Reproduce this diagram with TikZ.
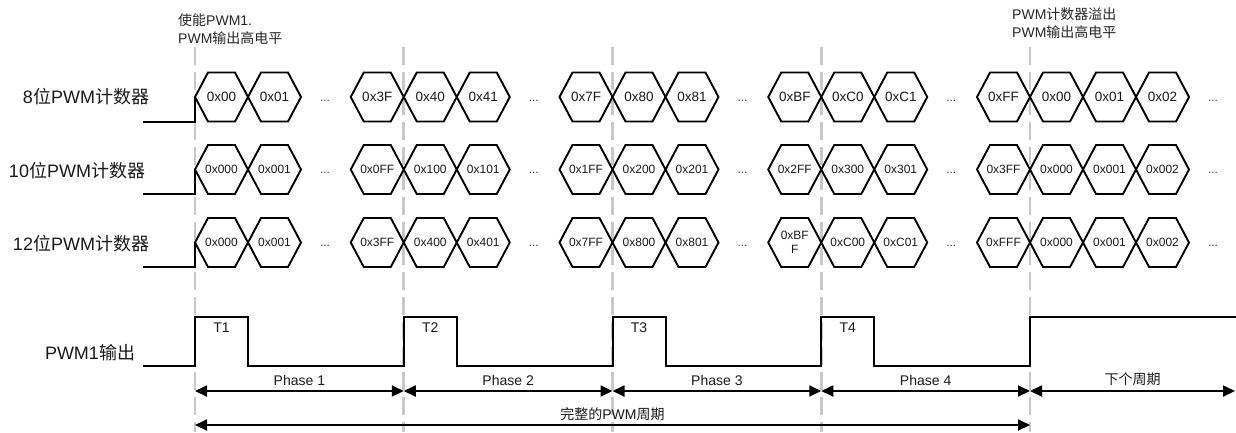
\documentclass[tikz,border=0pt]{standalone}
\usepackage{fontspec}
\setmainfont{Liberation Sans}
\newfontfamily\cjk{Noto Sans CJK SC}
\usetikzlibrary{arrows.meta}
\tikzset{
  hexline/.style={draw=black, line width=1.9pt, line join=miter},
  hexA/.style={font=\fontsize{13.5}{15}\selectfont, inner sep=0pt, text=black!90},
  hexB/.style={font=\fontsize{12}{14}\selectfont, inner sep=0pt, align=center, text=black!90},
  wave/.style={draw=black, line width=2pt, line join=miter},
  guide/.style={draw={rgb,255:red,200;green,200;blue,200}, line width=2.6pt, dash pattern=on 18pt off 7pt},
  dimline/.style={draw=black, line width=1.8pt, {Triangle[length=12pt,width=11pt]}-{Triangle[length=12pt,width=11pt]}},
  rowlabel/.style={font=\fontsize{18}{20}\selectfont, text=black!90},
  note/.style={font=\fontsize{14}{18}\selectfont, align=left, anchor=west, inner sep=0pt, text=black!85},
  tlabel/.style={font=\fontsize{14}{16}\selectfont, text=black!90},
  dotsep/.style={font=\fontsize{12}{14}\selectfont, anchor=base, inner sep=0pt, text=black!80},
}
\begin{document}
\begin{tikzpicture}[x=1pt, y=-1pt]
% group starts (dashed guides)
\def\gA{195}
\def\gB{403.75}
\def\gC{612.5}
\def\gD{821.25}
\def\gE{1030}
% #1 left vertex x, #2 row y, #3 style, #4 name, #5 value
\providecommand{\pwmHex}[5]{%
  \draw[hexline] (#1,#2) -- ++(13,-24.5) -- ++(27,0) -- ++(13,24.5) -- ++(-13,24.5) -- ++(-27,0) -- cycle;
  \node[#3] (#4) at ({#1+26.5},#2) {#5};}
\useasboundingbox (0,0) rectangle (1236,432);
% Guides
\coordinate (g0) at (\gA,47);
\coordinate (g1) at (\gB,47);
\coordinate (g2) at (\gC,47);
\coordinate (g3) at (\gD,47);
\coordinate (g4) at (\gE,47);
\draw[guide] (g0) -- ++(0,385);
\draw[guide] (g1) -- ++(0,385);
\draw[guide] (g2) -- ++(0,385);
\draw[guide] (g3) -- ++(0,385);
\draw[guide] (g4) -- ++(0,385);
% Notes
\node[note] (enable) at (178,29) {{\cjk 使能}PWM1.\\PWM{\cjk 输出高电平}};
\node[note] (overflow) at (1012,23.5) {PWM{\cjk 计数器溢出}\\PWM{\cjk 输出高电平}};
% Row labels
\node[rowlabel] (lab8) at (86,97) {8{\cjk 位}PWM{\cjk 计数器}};
\node[rowlabel] (lab10) at (77,171) {10{\cjk 位}PWM{\cjk 计数器}};
\node[rowlabel] (lab12) at (81,244) {12{\cjk 位}PWM{\cjk 计数器}};
\node[rowlabel] (labout) at (90,353) {PWM1{\cjk 输出}};
% 8-bit counter
\draw[wave] (143,121.5) -- (\gA,121.5) -- (\gA,97);
\pwmHex{\gA}{97}{hexA}{e1}{0x00}
\pwmHex{\gA+53}{97}{hexA}{e2}{0x01}
\node[dotsep] (ed1) at (\gA+130,101) {...};
\pwmHex{\gA+155.75}{97}{hexA}{e3}{0x3F}
\pwmHex{\gB}{97}{hexA}{e4}{0x40}
\pwmHex{\gB+53}{97}{hexA}{e5}{0x41}
\node[dotsep] (ed2) at (\gB+130,101) {...};
\pwmHex{\gB+155.75}{97}{hexA}{e6}{0x7F}
\pwmHex{\gC}{97}{hexA}{e7}{0x80}
\pwmHex{\gC+53}{97}{hexA}{e8}{0x81}
\node[dotsep] (ed3) at (\gC+130,101) {...};
\pwmHex{\gC+155.75}{97}{hexA}{e9}{0xBF}
\pwmHex{\gD}{97}{hexA}{e10}{0xC0}
\pwmHex{\gD+53}{97}{hexA}{e11}{0xC1}
\node[dotsep] (ed4) at (\gD+130,101) {...};
\pwmHex{\gD+155.75}{97}{hexA}{e12}{0xFF}
\pwmHex{\gE}{97}{hexA}{e13}{0x00}
\pwmHex{\gE+53}{97}{hexA}{e14}{0x01}
\pwmHex{\gE+106}{97}{hexA}{e15}{0x02}
\node[dotsep] (ed5) at (\gE+183,101) {...};
% 10-bit counter
\draw[wave] (143,194) -- (\gA,194) -- (\gA,169.5);
\pwmHex{\gA}{169.5}{hexB}{t1}{0x000}
\pwmHex{\gA+53}{169.5}{hexB}{t2}{0x001}
\node[dotsep] (td1) at (\gA+130,173.5) {...};
\pwmHex{\gA+155.75}{169.5}{hexB}{t3}{0x0FF}
\pwmHex{\gB}{169.5}{hexB}{t4}{0x100}
\pwmHex{\gB+53}{169.5}{hexB}{t5}{0x101}
\node[dotsep] (td2) at (\gB+130,173.5) {...};
\pwmHex{\gB+155.75}{169.5}{hexB}{t6}{0x1FF}
\pwmHex{\gC}{169.5}{hexB}{t7}{0x200}
\pwmHex{\gC+53}{169.5}{hexB}{t8}{0x201}
\node[dotsep] (td3) at (\gC+130,173.5) {...};
\pwmHex{\gC+155.75}{169.5}{hexB}{t9}{0x2FF}
\pwmHex{\gD}{169.5}{hexB}{t10}{0x300}
\pwmHex{\gD+53}{169.5}{hexB}{t11}{0x301}
\node[dotsep] (td4) at (\gD+130,173.5) {...};
\pwmHex{\gD+155.75}{169.5}{hexB}{t12}{0x3FF}
\pwmHex{\gE}{169.5}{hexB}{t13}{0x000}
\pwmHex{\gE+53}{169.5}{hexB}{t14}{0x001}
\pwmHex{\gE+106}{169.5}{hexB}{t15}{0x002}
\node[dotsep] (td5) at (\gE+183,173.5) {...};
% 12-bit counter
\draw[wave] (143,267) -- (\gA,267) -- (\gA,242.5);
\pwmHex{\gA}{242.5}{hexB}{w1}{0x000}
\pwmHex{\gA+53}{242.5}{hexB}{w2}{0x001}
\node[dotsep] (wd1) at (\gA+130,246.5) {...};
\pwmHex{\gA+155.75}{242.5}{hexB}{w3}{0x3FF}
\pwmHex{\gB}{242.5}{hexB}{w4}{0x400}
\pwmHex{\gB+53}{242.5}{hexB}{w5}{0x401}
\node[dotsep] (wd2) at (\gB+130,246.5) {...};
\pwmHex{\gB+155.75}{242.5}{hexB}{w6}{0x7FF}
\pwmHex{\gC}{242.5}{hexB}{w7}{0x800}
\pwmHex{\gC+53}{242.5}{hexB}{w8}{0x801}
\node[dotsep] (wd3) at (\gC+130,246.5) {...};
\pwmHex{\gC+155.75}{242.5}{hexB}{w9}{0xBF\\F}
\pwmHex{\gD}{242.5}{hexB}{w10}{0xC00}
\pwmHex{\gD+53}{242.5}{hexB}{w11}{0xC01}
\node[dotsep] (wd4) at (\gD+130,246.5) {...};
\pwmHex{\gD+155.75}{242.5}{hexB}{w12}{0xFFF}
\pwmHex{\gE}{242.5}{hexB}{w13}{0x000}
\pwmHex{\gE+53}{242.5}{hexB}{w14}{0x001}
\pwmHex{\gE+106}{242.5}{hexB}{w15}{0x002}
\node[dotsep] (wd5) at (\gE+183,246.5) {...};
% PWM1 output
\draw[wave] (143,366) -- (\gA,366) -- (\gA,317) -- (\gA+53,317) -- (\gA+53,366)
  -- (\gB,366) -- (\gB,317) -- (\gB+53,317) -- (\gB+53,366)
  -- (\gC,366) -- (\gC,317) -- (\gC+53,317) -- (\gC+53,366)
  -- (\gD,366) -- (\gD,317) -- (\gD+53,317) -- (\gD+53,366)
  -- (\gE,366) -- (\gE,317) -- (1237,317);
\node[tlabel] (t1) at (\gA+26.5,328) {T1};
\node[tlabel] (t2) at (\gB+26.5,328) {T2};
\node[tlabel] (t3) at (\gC+26.5,328) {T3};
\node[tlabel] (t4) at (\gD+26.5,328) {T4};
% Phases
\coordinate (a0) at (\gA,391);
\coordinate (a1) at (\gB,391);
\coordinate (a2) at (\gC,391);
\coordinate (a3) at (\gD,391);
\coordinate (a4) at (\gE,391);
\coordinate (a5) at (1235,391);
\draw[dimline] (a0) -- node[tlabel, above=1pt] (ph1) {Phase 1} (a1);
\draw[dimline] (a1) -- node[tlabel, above=1pt] (ph2) {Phase 2} (a2);
\draw[dimline] (a2) -- node[tlabel, above=1pt] (ph3) {Phase 3} (a3);
\draw[dimline] (a3) -- node[tlabel, above=1pt] (ph4) {Phase 4} (a4);
\draw[dimline] (a4) -- node[tlabel, above=1pt] (next) {{\cjk 下个周期}} (a5);
% Full period
\coordinate (f0) at (\gA,425);
\coordinate (f1) at (\gE,425);
\draw[dimline] (f0) -- node[tlabel, above=0pt] (full) {{\cjk 完整的}PWM{\cjk 周期}} (f1);
\end{tikzpicture}
\end{document}
